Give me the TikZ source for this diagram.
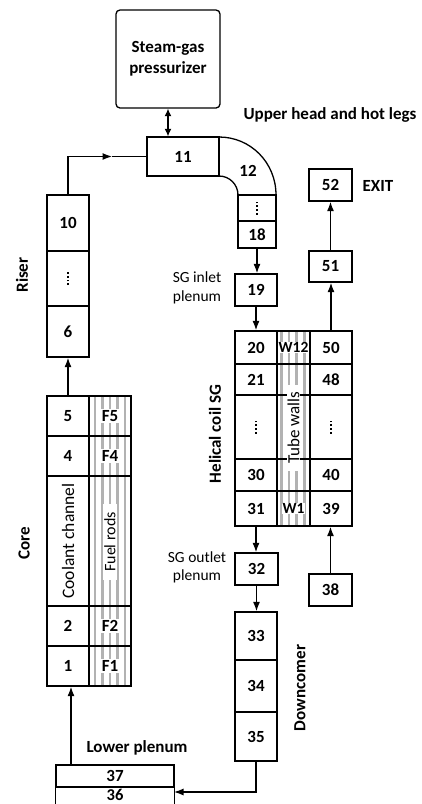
\documentclass[tikz,border=0pt]{standalone}
\usepackage{fontspec}
\setmainfont{Carlito}
\usetikzlibrary{arrows.meta,backgrounds}
\begin{document}
\begin{tikzpicture}[x=1pt,y=-1pt,
  lw/.style={line width=1.3pt},
  box/.style={draw, lw, inner sep=0pt, font=\fontsize{17}{20}\selectfont\bfseries},
  lbl/.style={inner sep=0pt, font=\fontsize{17}{21}\selectfont\bfseries},
  thin/.style={inner sep=0pt, font=\fontsize{15.5}{18.5}\selectfont, align=center},
  wlbl/.style={fill=white, inner sep=1.2pt, font=\fontsize{17}{20}\selectfont\bfseries},
  arr/.style={lw, -{Latex[length=9.5pt,width=7pt]}},
  darr/.style={lw, {Latex[length=7.5pt,width=7pt]}-{Latex[length=7.5pt,width=7pt]}},
  stripe/.style={line width=2.6pt, draw=black!30},
  vdots/.style={line width=1.8pt, dash pattern=on 1.7pt off 2pt}
]
\useasboundingbox (0,0) rectangle (421,804);

% pressurizer
\node[draw, lw, rounded corners=4pt, minimum width=104pt, minimum height=98pt,
      align=center, font=\fontsize{17}{21}\selectfont\bfseries] (pz) at (168,59) {Steam-gas\\pressurizer};
\node[lbl] (uh) at (330,115) {Upper head and hot legs};

% upper head / hot legs
\node[box, minimum width=72pt, minimum height=39pt] (n11) at (183,156.5) {11};
\node[box, minimum width=38pt, minimum height=26pt] (nd) at (257,208) {};
\node[box, minimum width=38pt, minimum height=27pt] (n18) at (257,234.5) {18};
\draw[lw] (219,137) .. controls (250.5,137) and (276,162.5) .. (276,195)
  -- (238,195) .. controls (238,184.5) and (229.5,176) .. (219,176);
\node[lbl] (n12) at (248,171) {12};
\draw[vdots] ([yshift=-6.5pt]nd.center) -- ([yshift=6.8pt]nd.center);

% exit
\node[box, minimum width=43pt, minimum height=32pt] (b52) at (330.5,185) {52};
\node[lbl] (exit) at (378,186) {EXIT};
\node[box, minimum width=43pt, minimum height=31pt] (b51) at (330.5,266.5) {51};

% riser
\node[box, minimum width=42pt, minimum height=56pt] (r10) at (68,223) {10};
\node[box, minimum width=42pt, minimum height=55pt] (rd) at (68,278.5) {};
\node[box, minimum width=42pt, minimum height=51pt] (r6) at (68,331.5) {6};
\draw[vdots] ([yshift=-6.5pt]rd.center) -- ([yshift=6.8pt]rd.center);
\node[lbl, rotate=90] (riser) at (22,275) {Riser};

% core
\node[box, minimum width=42pt, minimum height=40pt] (c5) at (68,416) {5};
\node[box, minimum width=42pt, minimum height=40pt] (c4) at (68,456) {4};
\node[box, minimum width=42pt, minimum height=130pt] (cb) at (68,541) {};
\node[box, minimum width=42pt, minimum height=40pt] (c2) at (68,626) {2};
\node[box, minimum width=42pt, minimum height=40pt] (c1) at (68,666) {1};
\node[box, minimum width=42pt, minimum height=40pt] (f5) at (110,416) {};
\node[box, minimum width=42pt, minimum height=40pt] (f4) at (110,456) {};
\node[box, minimum width=42pt, minimum height=130pt] (fb) at (110,541) {};
\node[box, minimum width=42pt, minimum height=40pt] (f2) at (110,626) {};
\node[box, minimum width=42pt, minimum height=40pt] (f1) at (110,666) {};
\begin{scope}[on background layer]
  \foreach \sx in {95,102.5,110,117.5,125}
    \draw[stripe] (\sx,396) -- (\sx,686);
\end{scope}
\node[wlbl] (lf5) at (f5.center) {F5};
\node[wlbl] (lf4) at (f4.center) {F4};
\node[wlbl] (lf2) at (f2.center) {F2};
\node[wlbl] (lf1) at (f1.center) {F1};
\node[rotate=90, inner sep=0pt, font=\fontsize{17.5}{20}\selectfont] (cc) at (cb.center) {Coolant channel};
\node[rotate=90, fill=white, inner xsep=8pt, inner ysep=1pt, font=\fontsize{16}{19}\selectfont] (fr) at (110,542) {Fuel rods};
\node[lbl, rotate=90] (core) at (24,543) {Core};

% SG inlet
\node[box, minimum width=42pt, minimum height=32pt] (b19) at (256,290) {19};
\node[thin] (sgin) at (197,288) {SG inlet\\plenum};

% helical coil SG
\node[box, minimum width=42pt, minimum height=33pt] (s20) at (256,347.5) {20};
\node[box, minimum width=42pt, minimum height=31pt] (s21) at (256,379.5) {21};
\node[box, minimum width=42pt, minimum height=64pt] (sd) at (256,427) {};
\node[box, minimum width=42pt, minimum height=32pt] (s30) at (256,475) {30};
\node[box, minimum width=42pt, minimum height=35pt] (s31) at (256,508.5) {31};
\node[box, minimum width=33pt, minimum height=33pt] (w20) at (293.5,347.5) {};
\node[box, minimum width=33pt, minimum height=31pt] (w21) at (293.5,379.5) {};
\node[box, minimum width=33pt, minimum height=64pt] (wd) at (293.5,427) {};
\node[box, minimum width=33pt, minimum height=32pt] (w30) at (293.5,475) {};
\node[box, minimum width=33pt, minimum height=35pt] (w31) at (293.5,508.5) {};
\node[box, minimum width=42pt, minimum height=33pt] (s50) at (331,347.5) {50};
\node[box, minimum width=42pt, minimum height=31pt] (s48) at (331,379.5) {48};
\node[box, minimum width=42pt, minimum height=64pt] (sd2) at (331,427) {};
\node[box, minimum width=42pt, minimum height=32pt] (s40) at (331,475) {40};
\node[box, minimum width=42pt, minimum height=35pt] (s39) at (331,508.5) {39};
\draw[vdots] ([yshift=-6.5pt]sd.center) -- ([yshift=6.8pt]sd.center);
\draw[vdots] ([yshift=-6.5pt]sd2.center) -- ([yshift=6.8pt]sd2.center);
\begin{scope}[on background layer]
  \foreach \sx in {281.5,289,296.5,304.5}
    \draw[stripe] (\sx,331) -- (\sx,526);
\end{scope}
\node[wlbl, inner sep=0.8pt, font=\fontsize{15.5}{18}\selectfont\bfseries] (lw12) at (w20.center) {W12};
\node[wlbl, inner sep=0.8pt, font=\fontsize{15.5}{18}\selectfont\bfseries] (lw1) at (w31.center) {W1};
\node[rotate=90, fill=white, inner xsep=7pt, inner ysep=0.5pt, font=\fontsize{17}{20}\selectfont] (tw) at (293.5,428) {Tube walls};
\node[lbl, rotate=90] (hsg) at (215,434) {Helical coil SG};

% SG outlet, downcomer
\node[box, minimum width=43pt, minimum height=32pt] (b32) at (256.5,569) {32};
\node[thin] (sgout) at (197,567.5) {SG outlet\\plenum};
\node[box, minimum width=42pt, minimum height=48pt] (d33) at (256,636) {33};
\node[box, minimum width=42pt, minimum height=52pt] (d34) at (256,686) {34};
\node[box, minimum width=42pt, minimum height=49pt] (d35) at (256,736.5) {35};
\node[lbl, rotate=90] (dc) at (300,688) {Downcomer};
\node[box, minimum width=43pt, minimum height=32pt] (b38) at (330.5,590) {38};

% lower plenum
\node[box, minimum width=118pt, minimum height=22pt] (b37) at (115,776) {37};
\node[inner sep=0pt, font=\fontsize{16.5}{19}\selectfont\bfseries] (b36) at (115,795) {36};
\draw[lw] (b37.south west) -- ++(0,20);
\draw[lw] (b37.south east) -- ++(0,20);
\node[lbl] (lp) at (137,748) {Lower plenum};

% connectors
\coordinate (m11) at (112,156.5);
\coordinate (dcl) at (174,792);
\draw[darr] (pz.south) -- (pz.south |- n11.north);
\draw[arr] (r10.north) |- (m11);
\draw[lw] (m11) -- (n11.west);
\draw[arr] (c5.north) -- (r6.south);
\draw[arr] (n18.south) -- (n18.south |- b19.north);
\draw[arr] (b19.south) -- (s20.north);
\draw[arr] (s50.north) -- (s50.north |- b51.south);
\draw[arr] (b51.north) -- (b52.south);
\draw[arr] (s31.south) -- (s31.south |- b32.north);
\draw[arr] (b32.south) -- (b32.south |- d33.north);
\draw[arr] (b38.north) -- (b38.north |- s39.south);
\draw[arr] (d35.south) |- (dcl);
\draw[arr] ([xshift=3pt]c1.south |- b37.north) -- ([xshift=3pt]c1.south);
\end{tikzpicture}
\end{document}
